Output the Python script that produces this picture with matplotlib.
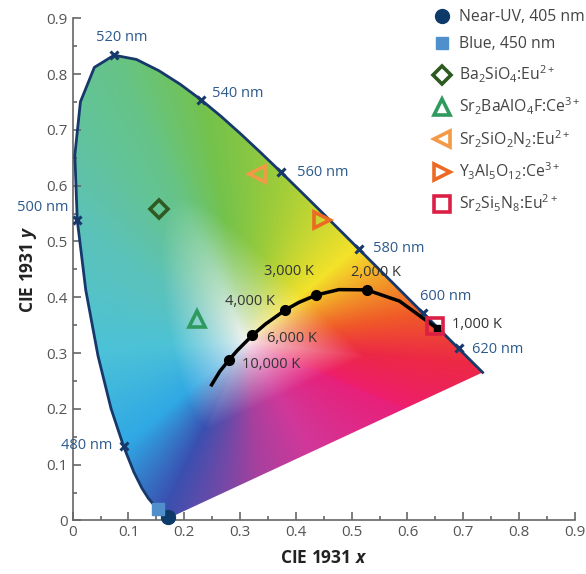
import matplotlib
matplotlib.use('Agg')
import matplotlib.pyplot as plt
import numpy as np
from matplotlib.path import Path
from matplotlib.patches import PathPatch

plt.rcParams['font.family'] = ['Open Sans', 'DejaVu Sans']
plt.rcParams['mathtext.fontset'] = 'custom'
plt.rcParams['mathtext.rm'] = 'Open Sans'
plt.rcParams['mathtext.it'] = 'Open Sans:italic:bold'

# spectral locus (CIE 1931 2 deg), wavelength in nm
wavelength = [380, 400, 420, 430, 440, 450, 460, 465, 470, 475, 480, 485, 490, 495,
              500, 505, 510, 515, 520, 525, 530, 535, 540, 545, 550, 555, 560, 565,
              570, 575, 580, 585, 590, 595, 600, 610, 620, 630, 640, 650, 660, 680, 700]
locus_x = [0.1741, 0.1733, 0.1714, 0.1689, 0.1644, 0.1566, 0.1440, 0.1355, 0.1241, 0.1096,
           0.0913, 0.0687, 0.0454, 0.0235, 0.0082, 0.0039, 0.0139, 0.0389, 0.0743, 0.1142,
           0.1547, 0.1929, 0.2296, 0.2658, 0.3016, 0.3373, 0.3731, 0.4087, 0.4441, 0.4788,
           0.5125, 0.5448, 0.5752, 0.6029, 0.6270, 0.6658, 0.6915, 0.7079, 0.7190, 0.7260,
           0.7300, 0.7334, 0.7347]
locus_y = [0.0050, 0.0048, 0.0051, 0.0069, 0.0109, 0.0177, 0.0297, 0.0399, 0.0578, 0.0868,
           0.1327, 0.2007, 0.2950, 0.4127, 0.5384, 0.6548, 0.7502, 0.8120, 0.8338, 0.8262,
           0.8059, 0.7816, 0.7543, 0.7243, 0.6923, 0.6589, 0.6245, 0.5896, 0.5547, 0.5202,
           0.4866, 0.4544, 0.4242, 0.3965, 0.3725, 0.3340, 0.3083, 0.2920, 0.2809, 0.2740,
           0.2700, 0.2666, 0.2653]
marked_nm = [480, 500, 520, 540, 560, 580, 600, 620]

# Planckian locus
planck_x = [0.249, 0.2637, 0.2807, 0.2952, 0.3221, 0.3451, 0.3805, 0.4053, 0.4369, 0.4770, 0.5267, 0.5857, 0.6528]
planck_y = [0.243, 0.2671, 0.2883, 0.3048, 0.3318, 0.3516, 0.3768, 0.3907, 0.4041, 0.4137, 0.4133, 0.3931, 0.3444]
cct_labels = ['10,000 K', '6,000 K', '4,000 K', '3,000 K', '2,000 K', '1,000 K']
cct_x = [0.2807, 0.3221, 0.3805, 0.4369, 0.5267, 0.6528]
cct_y = [0.2883, 0.3318, 0.3768, 0.4041, 0.4133, 0.3444]

# sources and phosphors
pt_labels = ['Near-UV, 405 nm', 'Blue, 450 nm', 'Ba$_2$SiO$_4$:Eu$^{2+}$',
             'Sr$_2$BaAlO$_4$F:Ce$^{3+}$', 'Sr$_2$SiO$_2$N$_2$:Eu$^{2+}$',
             'Y$_3$Al$_5$O$_{12}$:Ce$^{3+}$', 'Sr$_2$Si$_5$N$_8$:Eu$^{2+}$']
pt_x = [0.171, 0.153, 0.155, 0.222, 0.330, 0.446, 0.649]
pt_y = [0.007, 0.021, 0.559, 0.361, 0.620, 0.538, 0.348]
pt_style = [
    dict(marker='o', mfc='#0e3a6a', mec='#0e3a6a', ms=10),
    dict(marker='s', mfc='#4f8fcb', mec='#4f8fcb', ms=9),
    dict(marker='D', mfc='none', mec='#2e5a22', ms=9, mew=2.6),
    dict(marker='^', mfc='none', mec='#2f9a5e', ms=11, mew=2.6),
    dict(marker='<', mfc='none', mec='#f29a45', ms=11, mew=2.6),
    dict(marker='>', mfc='none', mec='#ec6a22', ms=11, mew=2.6),
    dict(marker='s', mfc='none', mec='#dc1f45', ms=11, mew=2.6),
]

# hue wheel of the fill, angle (deg) around the white point -> colour
white_pt = (0.31, 0.32)
wheel_deg = [-23, -6, 9, 40, 79, 100, 115, 144, 184, 221, 244, 258, 275, 300, 337]
wheel_rgb = ['#ee1e6e', '#ec2846', '#f05a28', '#f4e22a', '#9ccc3a', '#74c24c', '#66c487',
             '#5cc2b8', '#4cc2d8', '#30a8e4', '#3a50b0', '#6a4aa8', '#a8409e', '#d0389a', '#e8207a']

fig = plt.figure(figsize=(5.86, 5.74), dpi=100)
ax = fig.add_axes([0.124, 0.0906, 0.857, 0.8803])

# colour fill of the horseshoe
gx, gy = np.meshgrid(np.linspace(0, 0.75, 500), np.linspace(0, 0.85, 500))
ang = np.degrees(np.arctan2(gy - white_pt[1], gx - white_pt[0]))
rad = np.hypot(gx - white_pt[0], gy - white_pt[1])
lx = np.array(locus_x + [locus_x[0]])
ly = np.array(locus_y + [locus_y[0]])
# sample the closed boundary densely to get its radius by angle
bx = np.concatenate([np.linspace(lx[i], lx[i + 1], 30) for i in range(len(lx) - 1)])
by = np.concatenate([np.linspace(ly[i], ly[i + 1], 30) for i in range(len(ly) - 1)])
b_ang = np.degrees(np.arctan2(by - white_pt[1], bx - white_pt[0]))
b_rad = np.hypot(bx - white_pt[0], by - white_pt[1])
order = np.argsort(b_ang)
edge = np.interp(ang, b_ang[order], b_rad[order], period=360)
t = np.clip(rad / (0.5 * edge), 0, 1) ** 0.8
wc = np.array([matplotlib.colors.to_rgb(c) for c in wheel_rgb])
wd = np.array(wheel_deg, dtype=float)
base = np.stack([np.interp(ang, wd, wc[:, k], period=360) for k in range(3)], axis=-1)
rgb = (1 - t[..., None]) * np.array([0.97, 0.96, 0.95]) + t[..., None] * base
img = ax.imshow(rgb, origin='lower', extent=[0, 0.75, 0, 0.85], interpolation='bilinear', zorder=1)
verts = list(zip(locus_x, locus_y)) + [(locus_x[0], locus_y[0])]
patch = PathPatch(Path(verts), facecolor='none', edgecolor='none')
ax.add_patch(patch)
img.set_clip_path(patch)

ax.plot(locus_x, locus_y, color='#16386a', lw=2, zorder=3)
mk = [wavelength.index(w) for w in marked_nm]
ax.plot([locus_x[i] for i in mk], [locus_y[i] for i in mk], ls='none', marker='x',
        color='#16386a', ms=6, mew=2.2, zorder=4)

nm_pos = {480: (0.072, 0.135, 'right'), 500: (-0.008, 0.56, 'right'), 520: (0.088, 0.865, 'center'),
          540: (0.25, 0.765, 'left'), 560: (0.402, 0.624, 'left'), 580: (0.539, 0.487, 'left'),
          600: (0.622, 0.401, 'left'), 620: (0.716, 0.307, 'left')}
for w, (tx, ty, ha) in nm_pos.items():
    ax.text(tx, ty, f'{w} nm', ha=ha, va='center', fontsize=10.5, color='#2c5a8c', zorder=5)

ax.plot(planck_x, planck_y, color='black', lw=2.5, zorder=4)
ax.plot(cct_x[:-1], cct_y[:-1], ls='none', marker='o', color='black', ms=7, zorder=5)
ax.plot(cct_x[-1:], cct_y[-1:], ls='none', marker='s', color='black', ms=5, zorder=5)
cct_pos = [(0.303, 0.280, 'left'), (0.348, 0.326, 'left'), (0.363, 0.393, 'right'),
           (0.388, 0.446, 'center'), (0.543, 0.444, 'center'), (0.679, 0.351, 'left')]
for lab, (tx, ty, ha) in zip(cct_labels, cct_pos):
    ax.text(tx, ty, lab, ha=ha, va='center', fontsize=10.5, color='#333333', zorder=6)

for lab, x, y, st in zip(pt_labels, pt_x, pt_y, pt_style):
    ax.plot([x], [y], ls='none', label=lab, zorder=7, clip_on=False, **st)

leg = ax.legend(loc='upper left', bbox_to_anchor=(0.705, 1.03), frameon=False, fontsize=11.3,
                handletextpad=0.45, labelspacing=0.7, handlelength=1.2, borderaxespad=0)
for t in leg.get_texts():
    t.set_color('#444444')

ax.set_xlim(0, 0.9)
ax.set_ylim(0, 0.9)
ticks = np.round(np.arange(0, 0.91, 0.1), 1)
ax.set_xticks(ticks)
ax.set_yticks(ticks)
ax.set_xticklabels(['0'] + [f'{t:.1f}' for t in ticks[1:]])
ax.set_yticklabels(['0'] + [f'{t:.1f}' for t in ticks[1:]])
ax.set_xticks(np.arange(0.05, 0.9, 0.1), minor=True)
ax.set_yticks(np.arange(0.05, 0.9, 0.1), minor=True)
ax.tick_params(which='both', direction='in', colors='#666666', labelcolor='#555555', labelsize=11, width=1.2)
ax.tick_params(which='major', length=6)
ax.tick_params(which='minor', length=3)
for s in ['top', 'right']:
    ax.spines[s].set_visible(False)
for s in ['left', 'bottom']:
    ax.spines[s].set_color('#666666')
    ax.spines[s].set_linewidth(1.2)
ax.set_xlabel('CIE 1931 $x$', fontsize=12.5, fontweight='bold', color='#222222', labelpad=6)
ax.set_ylabel('CIE 1931 $y$', fontsize=12.5, fontweight='bold', color='#222222', labelpad=5)

fig.savefig('out.png', dpi=100)
